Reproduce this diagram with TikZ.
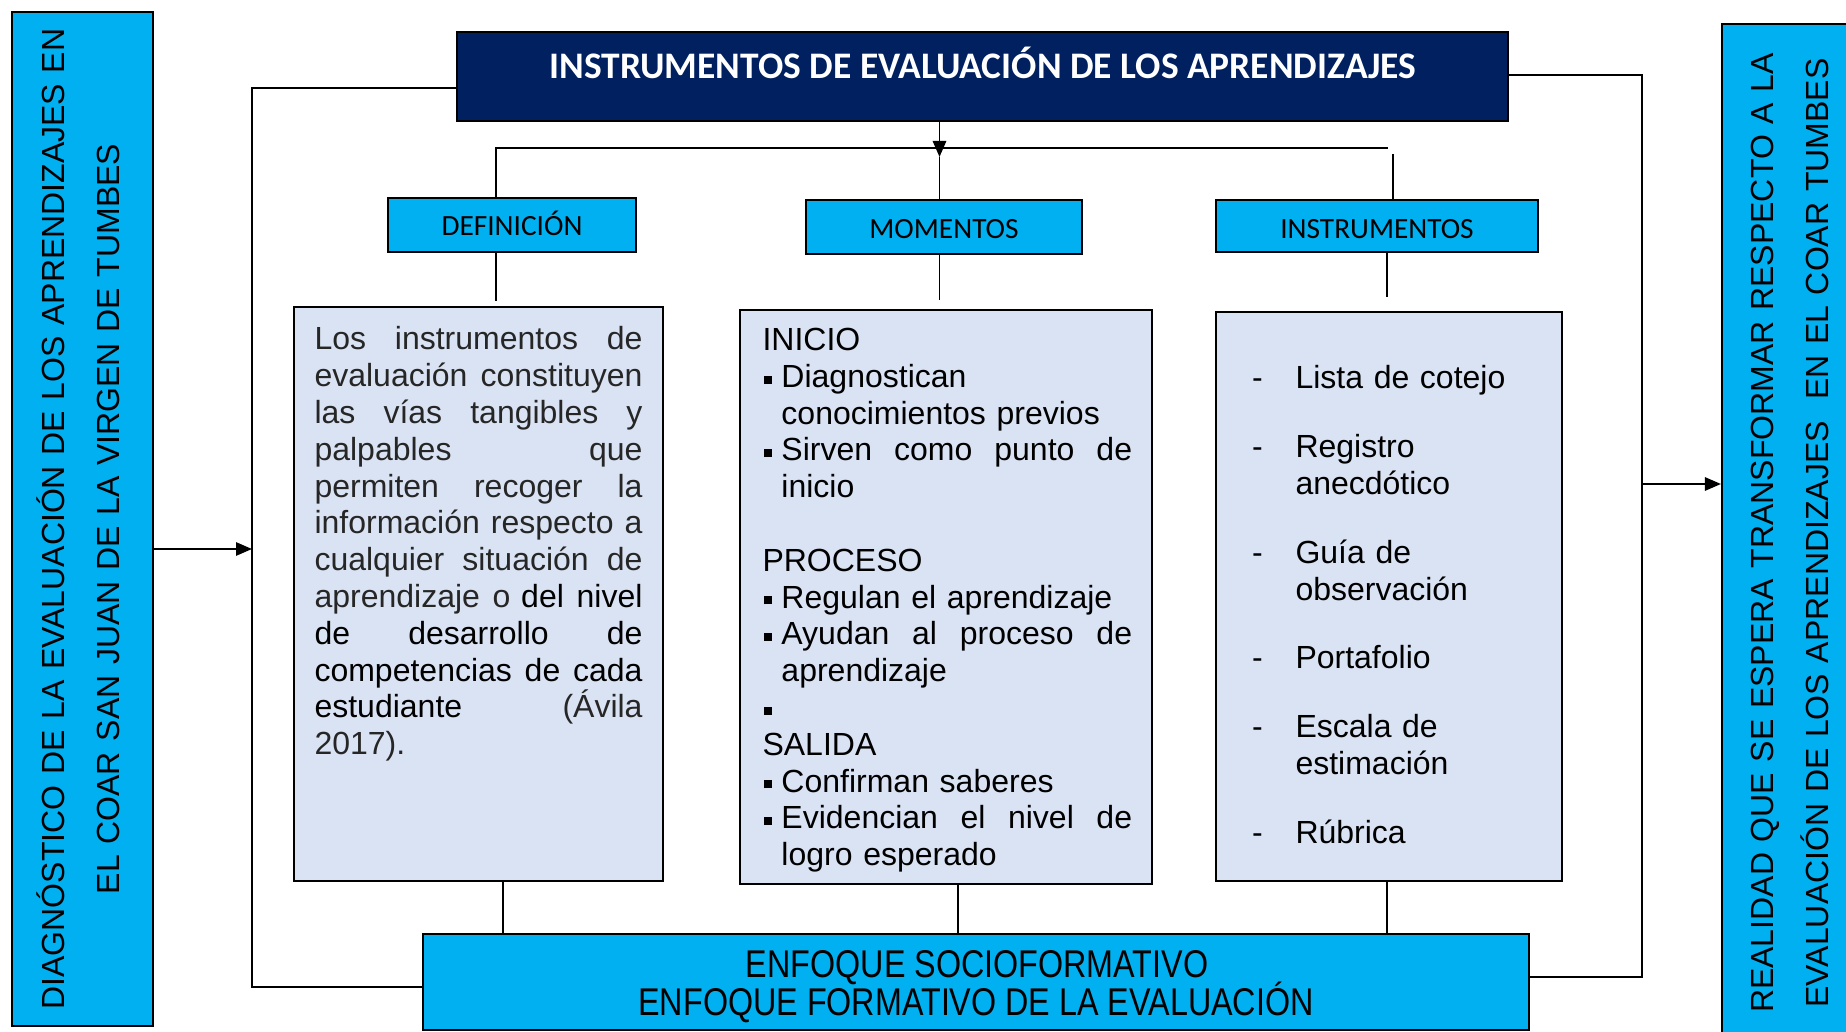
\documentclass[tikz,border=0pt]{standalone}
\usepackage{fontspec}
\setmainfont{Liberation Sans}
\newfontfamily\calibri{Carlito}
\newfontfamily\narrowsans[FakeStretch=0.835]{Liberation Sans}
\usetikzlibrary{arrows.meta,fit}
\definecolor{cyanbox}{HTML}{00B0F0}
\definecolor{navybox}{HTML}{002060}
\definecolor{lightbox}{HTML}{DAE3F3}
\definecolor{txtgray}{HTML}{262626}
\newcommand\sqb{\makebox[7.1pt][l]{\hspace{0.6pt}\rule[1.4pt]{3pt}{3pt}}}
\newcommand\ind{\hspace*{7.1pt}}
\newcommand\dsh{\makebox[16.3pt][l]{-}}
\begin{document}
\begin{tikzpicture}[x=0.375pt,y=-0.375pt,
  box/.style={draw=black,line width=0.8pt,inner sep=0pt},
  cbox/.style={box,fill=cyanbox},
  lbox/.style={box,fill=lightbox},
  conn/.style={line width=0.7pt},
  arr/.style={conn,-{Triangle[length=6pt,width=5pt]}},
  body/.style={inner sep=0pt,font=\fontsize{12pt}{13.8pt}\selectfont,align=left},
  cal/.style={inner sep=0pt,anchor=base,font=\calibri\fontsize{11pt}{13pt}\selectfont},
  side/.style={rotate=90,inner sep=0pt,text width=390pt,align=center,font=\fontsize{12pt}{20.7pt}\selectfont},
  narrowtxt/.style={inner sep=0pt,anchor=base,font=\narrowsans\fontsize{14.5pt}{14.1pt}\selectfont}
]
\useasboundingbox[fill=white] (0,0) rectangle (1846,1032);

% side boxes
\node[cbox,fit={(12,12)(153,1026)}] (left) {};
\node[side] (lefttxt) at (78,519) {DIAGNÓSTICO DE LA EVALUACIÓN DE LOS APRENDIZAJES EN\\EL COAR SAN JUAN DE LA VIRGEN DE TUMBES};
\node[cbox,fit={(1722,24)(1860,1045)}] (right) {};
\node[side] (righttxt) at (1790,533) {REALIDAD QUE SE ESPERA TRANSFORMAR RESPECTO A LA\\EVALUACIÓN DE LOS APRENDIZAJES\ \ EN EL COAR TUMBES};

% title
\node[box,fill=navybox,fit={(457,32)(1508,121)}] (title) {};
\node[inner sep=0pt,anchor=base,text=white,font=\calibri\bfseries\fontsize{14.05pt}{16pt}\selectfont] (titletxt) at (983,79) {INSTRUMENTOS DE EVALUACIÓN DE LOS APRENDIZAJES};

% headers
\node[cbox,fit={(388,198)(636,252)}] (def) {};
\node[cal] (deftitle) at (512,235.5) {DEFINICIÓN};
\node[cbox,fit={(806,200)(1082,254)}] (mom) {};
\node[cal] (momtitle) at (944,239) {MOMENTOS};
\node[cbox,fit={(1216,200)(1538,252)}] (ins) {};
\node[cal] (institle) at (1377,239) {INSTRUMENTOS};

% content boxes
\node[lbox,fit={(294,307)(663,881)}] (defbox) {};
\node[body,text width=123pt,anchor=base west,text=txtgray] (deftxt) at (314,350) {%
Los\hfill instrumentos\hfill de\\
evaluación\hfill constituyen\\
las\hfill vías\hfill tangibles\hfill y\\
palpables\hfill que\\
permiten\hfill recoger\hfill la\\
información\hfill respecto\hfill a\\
cualquier\hfill situación\hfill de\\
aprendizaje\hfill o {\color{black}del\hfill nivel}\\
{\color{black}de\hfill desarrollo\hfill de}\\
{\color{black}competencias\hfill de\hfill cada}\\
{\color{black}estudiante}\hfill (Ávila\\
2017).};

\node[lbox,fit={(740,310)(1152,884)}] (mombox) {};
\node[body,text width=138.6pt,anchor=base west] (momtxt) at (762,350.5) {%
INICIO\\
\sqb Diagnostican\\
\ind conocimientos previos\\
\sqb Sirven\hfill como\hfill punto\hfill de\\
\ind inicio\\
\mbox{}\\
PROCESO\\
\sqb Regulan el aprendizaje\\
\sqb Ayudan\hfill al\hfill proceso\hfill de\\
\ind aprendizaje\\
\sqb\\
SALIDA\\
\sqb Confirman saberes\\
\sqb Evidencian\hfill el\hfill nivel\hfill de\\
\ind logro esperado};

\node[lbox,fit={(1216,312)(1562,881)}] (insbox) {};
\node[body,text width=120pt,anchor=base west] (instxt) at (1251.5,389) {%
\dsh Lista de cotejo\\[12pt]
\dsh Registro\\
\hspace*{16.3pt}anecdótico\\[12pt]
\dsh Guía de\\
\hspace*{16.3pt}observación\\[12pt]
\dsh Portafolio\\[12pt]
\dsh Escala de\\
\hspace*{16.3pt}estimación\\[12pt]
\dsh Rúbrica};

% bottom box
\node[cbox,fit={(423,934)(1529,1030)}] (bottom) {};
\node[narrowtxt] (bottomtxta) at (977,977) {ENFOQUE SOCIOFORMATIVO};
\node[narrowtxt] (bottomtxtb) at (976,1015) {ENFOQUE FORMATIVO DE LA EVALUACIÓN};

% connector junctions
\coordinate (jlt) at (252,88);
\coordinate (jlb) at (252,987);
\coordinate (jla) at (252,549);
\coordinate (jrt) at (1642,75);
\coordinate (jrb) at (1642,977);
\coordinate (jra) at (1642,484);
\coordinate (ta) at (939.5,157);
\coordinate (bl) at (496,148);
\coordinate (br) at (1388,148);
\coordinate (bi) at (1393,154);
\coordinate (u1) at (496,301);
\coordinate (u2) at (939.5,300);
\coordinate (u3) at (1387,297);
\coordinate (d1) at (503,900);
\coordinate (d2) at (958,900);
\coordinate (d3) at (1387,900);

% outer loops
\draw[conn] (title.west |- jlt) -- (jlt) -- (jlb) -- (bottom.west |- jlb);
\draw[arr] (left.east |- jla) -- (jla);
\draw[conn] (title.east |- jrt) -- (jrt) -- (jrb) -- (bottom.east |- jrb);
\draw[arr] (jra) -- (right.west |- jra);

% title to headers
\draw[arr] (title.south -| ta) -- (ta);
\draw[conn] (ta) -- (mom.north -| ta);
\draw[conn] (def.north -| bl) -- (bl) -- (br);
\draw[conn] (bi) -- (ins.north -| bi);

% headers to content
\draw[conn] (def.south -| u1) -- (u1);
\draw[conn] (mom.south -| u2) -- (u2);
\draw[conn] (ins.south -| u3) -- (u3);

% content to bottom
\draw[conn] (defbox.south -| d1) -- (bottom.north -| d1);
\draw[conn] (mombox.south -| d2) -- (bottom.north -| d2);
\draw[conn] (insbox.south -| d3) -- (bottom.north -| d3);
\end{tikzpicture}
\end{document}
